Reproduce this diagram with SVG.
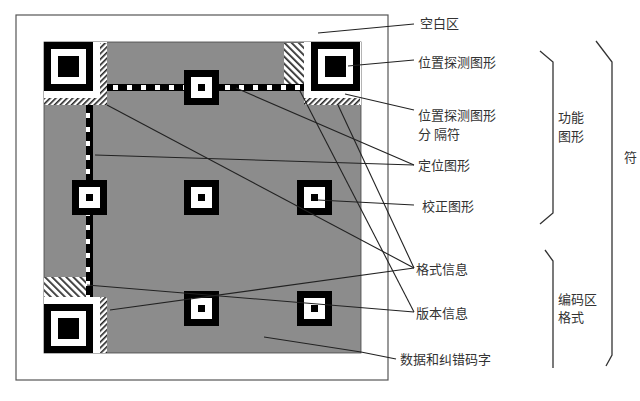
<svg xmlns="http://www.w3.org/2000/svg" width="640" height="401" viewBox="0 0 640 401">
<defs>
<pattern id="h1" width="4" height="4" patternUnits="userSpaceOnUse" patternTransform="rotate(45)"><rect width="4" height="4" fill="#fff"/><rect width="1.6" height="4" fill="#222"/></pattern>
<pattern id="h2" width="5" height="5" patternUnits="userSpaceOnUse" patternTransform="rotate(-45)"><rect width="5" height="5" fill="#fff"/><rect width="1.8" height="5" fill="#333"/></pattern>
<pattern id="tm" width="14" height="14" patternUnits="userSpaceOnUse"><rect width="14" height="14" fill="#000"/><rect x="1" y="1" width="5" height="5" fill="#fff"/></pattern>
<g id="fp"><rect width="49" height="49" fill="#000"/><rect x="7" y="7" width="35" height="35" fill="#fff"/><rect x="14" y="14" width="21" height="21" fill="#000"/></g>
<g id="ap"><rect width="35" height="35" fill="#000"/><rect x="7" y="7" width="21" height="21" fill="#fff"/><rect x="14" y="14" width="7" height="7" fill="#000"/></g>
</defs>
<style>
.t{font-family:"Noto Sans CJK SC","Noto Sans",serif;font-size:13px;fill:#333}
.l{stroke:#222;stroke-width:1.1;fill:none}
.b{stroke:#333;stroke-width:1.3;fill:none}
</style>
<rect width="640" height="401" fill="#fff"/>
<rect x="16" y="15" width="372" height="365" fill="#fff" stroke="#555" stroke-width="1.2"/>
<g id="qr">
<rect x="44" y="42" width="317" height="311" fill="#8c8c8c" stroke="#444" stroke-width="0.8"/>
<rect x="44" y="42" width="63" height="63" fill="#fff"/>
<rect x="304" y="42" width="57" height="63" fill="#fff"/>
<rect x="44" y="297" width="63" height="56" fill="#fff"/>
<use href="#fp" x="44" y="42"/>
<use href="#fp" x="311" y="42"/>
<use href="#fp" x="44" y="304"/>
<rect x="100" y="43" width="7" height="62" fill="url(#h1)"/>
<rect x="44" y="98" width="63" height="7" fill="url(#h1)"/>
<rect x="304" y="98" width="56" height="7" fill="url(#h1)"/>
<rect x="100" y="297" width="7" height="56" fill="url(#h1)"/>
<rect x="284" y="43" width="20" height="41" fill="url(#h2)"/>
<rect x="44" y="277" width="42" height="20" fill="url(#h2)"/>
<rect x="107" y="84" width="197" height="7" fill="url(#tm)"/>
<rect x="86" y="105" width="7" height="192" fill="url(#tm)"/>
<use href="#ap" x="184" y="70"/>
<use href="#ap" x="72" y="180"/>
<use href="#ap" x="184" y="180"/>
<use href="#ap" x="297" y="180"/>
<use href="#ap" x="184" y="291"/>
<use href="#ap" x="297" y="291"/>
</g>
<g id="connectors">
<line class="l" x1="318" y1="33" x2="414" y2="24"/>
<line class="l" x1="348" y1="66" x2="414" y2="60"/>
<line class="l" x1="345" y1="94" x2="414" y2="110"/>
<line class="l" x1="95" y1="155" x2="414" y2="165"/>
<line class="l" x1="236" y1="88" x2="414" y2="165"/>
<line class="l" x1="318" y1="200" x2="414" y2="205"/>
<line class="l" x1="107" y1="105" x2="414" y2="268"/>
<line class="l" x1="338" y1="105" x2="414" y2="268"/>
<line class="l" x1="110" y1="310" x2="414" y2="268"/>
<line class="l" x1="300" y1="91" x2="414" y2="312"/>
<line class="l" x1="87" y1="285" x2="414" y2="312"/>
<line class="l" x1="264" y1="337" x2="361" y2="352"/>
<line class="l" x1="361" y1="352" x2="396" y2="359"/>
</g>
<g id="braces">
<polyline class="b" points="540,51 553,62 553,213 540,224"/>
<polyline class="b" points="545,250 553,261 553,368"/>
<polyline class="b" points="596,41 612,62 612,355 606,366"/>
</g>
<g id="labels">
<text class="t" x="420" y="28">空白区</text>
<text class="t" x="418" y="67">位置探测图形</text>
<text class="t" x="418" y="120">位置探测图形</text>
<text class="t" x="418" y="139">分 隔符</text>
<text class="t" x="418" y="170">定位图形</text>
<text class="t" x="422" y="211">校正图形</text>
<text class="t" x="416" y="274">格式信息</text>
<text class="t" x="416" y="318">版本信息</text>
<text class="t" x="400" y="364">数据和纠错码字</text>
<text class="t" x="558" y="122">功能</text>
<text class="t" x="558" y="141">图形</text>
<text class="t" x="558" y="304">编码区</text>
<text class="t" x="558" y="322">格式</text>
<text class="t" x="624" y="162">符</text>
</g>
</svg>
